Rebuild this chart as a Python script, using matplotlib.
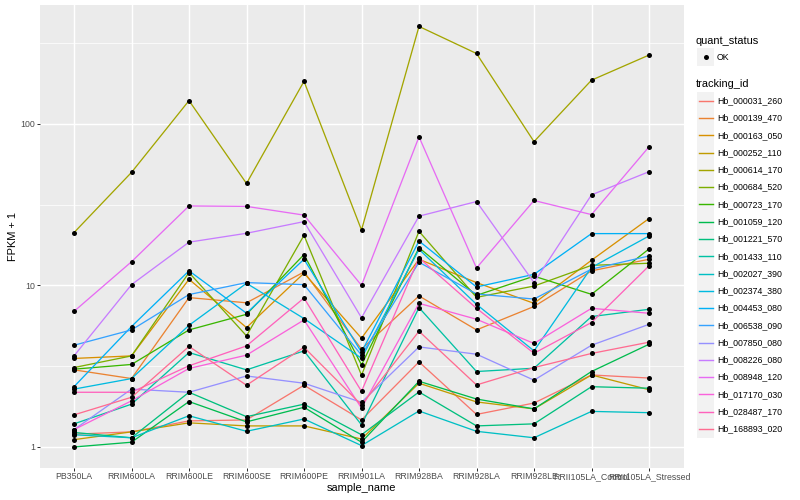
import matplotlib
matplotlib.use("Agg")
import matplotlib.pyplot as plt
from matplotlib.patches import Rectangle
from matplotlib.ticker import FixedLocator, NullFormatter
import numpy as np

plt.rcParams['font.family'] = ['Liberation Sans', 'DejaVu Sans']

samples = ["PB350LA", "RRIM600LA", "RRIM600LE", "RRIM600SE", "RRIM600PE",
           "RRIM901LA", "RRIM928BA", "RRIM928LA", "RRIM928LE",
           "RRII105LA_Control", "RRII105LA_Stressed"]

tracking_ids = ["Hb_000031_260", "Hb_000139_470", "Hb_000163_050", "Hb_000252_110",
                "Hb_000614_170", "Hb_000684_520", "Hb_000723_170", "Hb_001059_120",
                "Hb_001221_570", "Hb_001433_110", "Hb_002027_390", "Hb_002374_380",
                "Hb_004453_080", "Hb_006538_090", "Hb_007850_080", "Hb_008226_080",
                "Hb_008948_120", "Hb_017170_030", "Hb_028487_170", "Hb_168893_020"]

colors = ["#F8766D", "#EA8331", "#D89000", "#C09B00", "#A3A500", "#7CAE00", "#39B600",
          "#00BB4E", "#00BF7D", "#00C1A3", "#00BFC4", "#00BAE0", "#00B0F6", "#35A2FF",
          "#9590FF", "#C77CFF", "#E76BF3", "#FA62DB", "#FF62BC", "#FF6C91"]

# FPKM + 1 values per sample
hb_000031_260 = [1.20, 1.24, 1.45, 1.47, 2.41, 1.47, 3.36, 1.59, 1.87, 2.79, 2.67]
hb_000139_470 = [3.00, 2.65, 8.4, 7.8, 12.1, 4.03, 8.6, 5.3, 7.4, 12.3, 14.5]
hb_000163_050 = [3.53, 3.66, 10.9, 5.48, 11.9, 4.71, 14.5, 10.4, 7.74, 14.3, 25.9]
hb_000252_110 = [1.11, 1.24, 1.41, 1.35, 1.35, 1.12, 2.48, 1.90, 1.72, 2.79, 2.26]
hb_000614_170 = [21.2, 50, 139, 42.7, 183, 22, 400, 272, 77.5, 186, 266]
hb_000684_520 = [3.10, 3.66, 12.0, 4.87, 20.4, 2.78, 21.6, 8.43, 9.9, 13.3, 13.7]
hb_000723_170 = [3.03, 3.24, 5.3, 6.62, 15.5, 3.22, 17.1, 8.67, 11.4, 8.8, 16.8]
hb_001059_120 = [1.00, 1.07, 1.91, 1.43, 1.76, 1.07, 2.55, 1.98, 1.72, 2.93, 4.32]
hb_001221_570 = [1.23, 1.14, 2.18, 1.54, 1.84, 1.19, 2.19, 1.35, 1.39, 2.36, 2.31]
hb_001433_110 = [1.39, 1.84, 3.84, 3.00, 3.93, 1.37, 7.28, 2.93, 3.07, 6.41, 7.11]
hb_002027_390 = [1.19, 1.14, 1.56, 1.25, 1.49, 1.02, 1.67, 1.25, 1.14, 1.66, 1.63]
hb_002374_380 = [2.28, 2.65, 5.66, 10.3, 6.23, 3.54, 16.7, 7.63, 3.93, 12.9, 20.2]
hb_004453_080 = [2.36, 5.56, 12.3, 6.72, 14.5, 3.86, 18.8, 9.77, 11.7, 20.9, 20.9]
hb_006538_090 = [4.26, 5.3, 8.77, 10.4, 10.1, 3.70, 13.9, 8.84, 8.23, 12.6, 15.2]
hb_007850_080 = [1.28, 2.28, 2.18, 2.75, 2.48, 1.89, 4.16, 3.75, 2.59, 4.26, 5.74]
hb_008226_080 = [3.66, 10.1, 18.5, 21.0, 24.8, 6.3, 26.8, 33.0, 10.4, 36.3, 50.5]
hb_008948_120 = [6.9, 14.0, 31.0, 30.8, 27.2, 10.0, 83.0, 12.8, 33.5, 27.4, 72.0]
hb_017170_030 = [1.28, 1.93, 3.06, 3.70, 6.11, 1.74, 7.74, 6.17, 4.37, 7.21, 6.72]
hb_028487_170 = [2.18, 2.18, 3.18, 4.22, 8.35, 2.21, 14.8, 7.21, 3.80, 5.89, 13.2]
hb_168893_020 = [1.58, 2.03, 4.19, 2.41, 4.14, 1.82, 5.2, 2.42, 3.10, 3.79, 4.45]

series = [hb_000031_260, hb_000139_470, hb_000163_050, hb_000252_110, hb_000614_170,
          hb_000684_520, hb_000723_170, hb_001059_120, hb_001221_570, hb_001433_110,
          hb_002027_390, hb_002374_380, hb_004453_080, hb_006538_090, hb_007850_080,
          hb_008226_080, hb_008948_120, hb_017170_030, hb_028487_170, hb_168893_020]

y_ticks = [1, 10, 100]
y_tick_labels = ["1", "10", "100"]

W, H = 800, 500
fig = plt.figure(figsize=(8, 5), dpi=100)
fig.patch.set_facecolor("white")

px = 1 / 100 * 72  # points per pixel
ax = fig.add_axes([39.5 / W, 1 - 468 / H, (683.5 - 39.5) / W, (468 - 5.4) / H])
ax.set_facecolor("#EBEBEB")
for s in ax.spines.values():
    s.set_visible(False)

x = np.arange(len(samples))
for vals, col in zip(series, colors):
    ax.plot(x, vals, color=col, lw=1.3 * px, zorder=3, solid_capstyle="butt")
for vals in series:
    ax.plot(x, vals, linestyle="none", marker="o", ms=5.0 * px, color="black",
            mec="black", mew=0, zorder=4)

ax.set_yscale("log")
allv = np.concatenate([np.asarray(v) for v in series])
lo, hi = np.log10(allv.min()), np.log10(allv.max())
pad = 0.05 * (hi - lo)
ax.set_ylim(10 ** (lo - pad), 10 ** (hi + pad))
ax.set_xlim(-0.6, len(samples) - 1 + 0.6)

ax.yaxis.set_major_locator(FixedLocator(y_ticks))
ax.set_yticklabels(y_tick_labels)
minor = [10 ** (np.log10(t) + 0.5) for t in y_ticks]
ax.yaxis.set_minor_locator(FixedLocator(minor))
ax.yaxis.set_minor_formatter(NullFormatter())
ax.set_xticks(x)
ax.set_xticklabels(samples)

ax.grid(True, which="major", color="white", lw=1.42 * px, zorder=0)
ax.grid(True, which="minor", axis="y", color="white", lw=0.71 * px, zorder=0)
ax.set_axisbelow(True)

ax.tick_params(axis="both", which="major", length=2.75 * px, width=1.0 * px,
               color="#333333", labelcolor="#4D4D4D", labelsize=8.8 * px, pad=1.5 * px)
ax.tick_params(axis="y", which="minor", length=0)

ax.set_xlabel("sample_name", fontsize=11 * px, color="black", labelpad=1.5 * px)
ax.set_ylabel("FPKM + 1", fontsize=11 * px, color="black", labelpad=2.75 * px)

# Legend drawn in pixel coordinates
lax = fig.add_axes([0, 0, 1, 1], zorder=-1)
lax.set_xlim(0, W)
lax.set_ylim(H, 0)
lax.axis("off")

kx, kw = 697, 17.28
lax.text(696, 40.7, "quant_status", fontsize=11 * px, va="center", ha="left", color="black")
lax.add_patch(Rectangle((kx, 57 - kw / 2), kw, kw, facecolor="#F2F2F2", edgecolor="none"))
lax.plot([kx + kw / 2], [57], marker="o", ms=5.0 * px, color="black", mew=0)
lax.text(kx + kw + 2.5, 57, "OK", fontsize=8.8 * px, va="center", ha="left", color="black")

lax.text(696, 84.3, "tracking_id", fontsize=11 * px, va="center", ha="left", color="black")
y0 = 100.7
for i, (tid, col) in enumerate(zip(tracking_ids, colors)):
    yc = y0 + i * kw
    lax.add_patch(Rectangle((kx, yc - kw / 2), kw, kw, facecolor="#F2F2F2", edgecolor="none"))
    lax.plot([kx + 1.5, kx + kw - 1.5], [yc, yc], color=col, lw=1.42 * px)
    lax.text(kx + kw + 2.5, yc, tid, fontsize=8.8 * px, va="center", ha="left", color="black")

fig.savefig("out.png", dpi=100)
